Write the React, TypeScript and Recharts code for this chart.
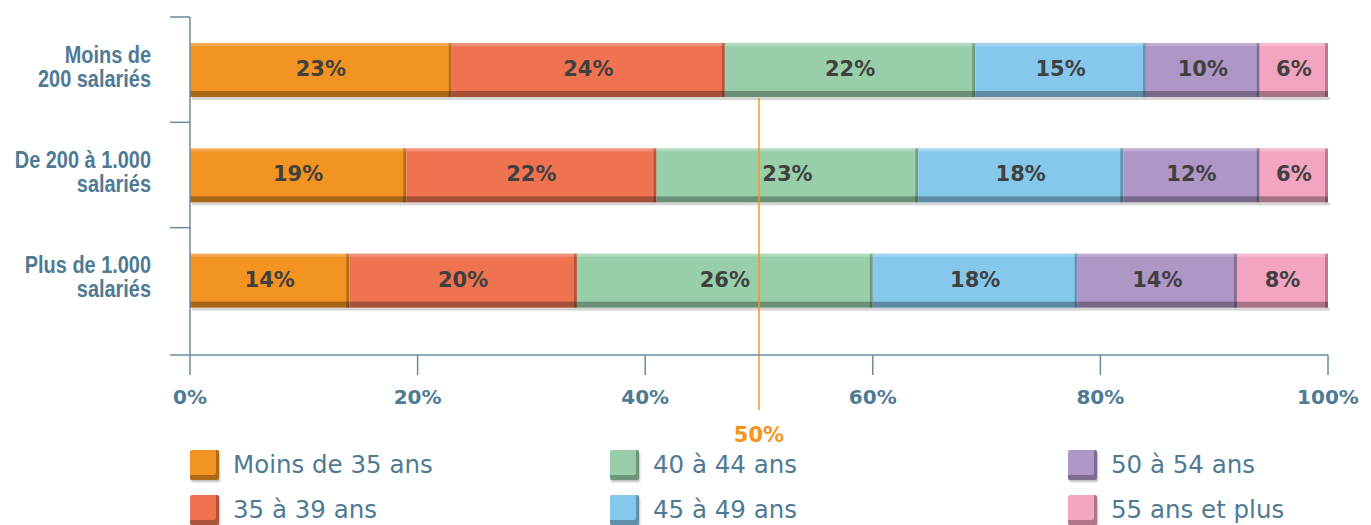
import React from "react";
import { BarChart, Bar, XAxis, YAxis, ReferenceLine, LabelList } from "recharts";

// ---- data ----
const categories: string[][] = [
  ["Moins de", "200 salariés"],
  ["De 200 à 1.000", "salariés"],
  ["Plus de 1.000", "salariés"],
];
const moins35 = [23, 19, 14];
const de35a39 = [24, 22, 20];
const de40a44 = [22, 23, 26];
const de45a49 = [15, 18, 18];
const de50a54 = [10, 12, 14];
const plus55 = [6, 6, 8];
const xTicks = [0, 20, 40, 60, 80, 100];
const refValue = 50;

const seriesNames = [
  "Moins de 35 ans",
  "35 à 39 ans",
  "40 à 44 ans",
  "45 à 49 ans",
  "50 à 54 ans",
  "55 ans et plus",
];
const seriesValues = [moins35, de35a39, de40a44, de45a49, de50a54, plus55];
const seriesColors = ["#F39322", "#EF7351", "#98CFAA", "#86C8EC", "#AE96C6", "#F3A4C1"];

const data = categories.map((c, i) => {
  const row: any = { cat: c.join("\n") };
  seriesValues.forEach((vals, s) => {
    row["s" + s] = vals[i];
  });
  return row;
});

// ---- layout / style ----
const W = 1371;
const H = 525;
const AXIS_COLOR = "#6A8BA0";
const LABEL_COLOR = "#4F7A94";
const TEXT_DARK = "#404040";
const ORANGE = "#F7941D";
const PLOT_TOP = 17;
const PLOT_BOTTOM_MARGIN = 110;
const X_AXIS_H = 60;
const Y_PAD_BOTTOM = 22;
const PLOT_H = H - PLOT_TOP - PLOT_BOTTOM_MARGIN - X_AXIS_H;
const BAND = (PLOT_H - Y_PAD_BOTTOM) / categories.length;

const BarShape = (props: any) => {
  const { x, y, width, height, fill } = props;
  if (!width || width <= 0) return null;
  return (
    <g>
      <rect x={x + 2} y={y + height} width={width} height={3} fill="#8a8a8a" opacity={0.35} />
      <rect x={x} y={y} width={width} height={height} fill={fill} />
      <rect x={x} y={y} width={width} height={3} fill="#ffffff" opacity={0.22} />
      <rect x={x} y={y + height - 6} width={width} height={6} fill="#000" opacity={0.3} />
      <rect x={x + width - 3} y={y} width={3} height={height} fill="#000" opacity={0.25} />
    </g>
  );
};

const BarLabel = (props: any) => {
  const { x, y, width, height, value } = props;
  return (
    <text
      x={x + width / 2}
      y={y + height / 2 - 1}
      textAnchor="middle"
      dominantBaseline="central"
      fontFamily="'DejaVu Sans', sans-serif"
      fontWeight="bold"
      fontSize={21}
      fill={TEXT_DARK}
    >
      {value}%
    </text>
  );
};

const YTick = (props: any) => {
  const { x, y, payload, index } = props;
  const lines = String(payload.value).split("\n");
  const axisX = x + 39;
  const textProps = {
    x: 0,
    textAnchor: "end" as const,
    fontFamily: "'Liberation Sans', Arial, sans-serif",
    fontWeight: "bold",
    fontSize: 24,
    fill: LABEL_COLOR,
  };
  return (
    <g>
      <line x1={axisX - 20} x2={axisX} y1={y - BAND / 2} y2={y - BAND / 2} stroke={AXIS_COLOR} strokeWidth={1.5} />
      {index === categories.length - 1 && (
        <line
          x1={axisX - 20}
          x2={axisX}
          y1={y + BAND / 2 + Y_PAD_BOTTOM}
          y2={y + BAND / 2 + Y_PAD_BOTTOM}
          stroke={AXIS_COLOR}
          strokeWidth={1.5}
        />
      )}
      <g transform={`translate(${x},${y}) scale(0.83,1)`}>
        <text {...textProps} y={-7}>{lines[0]}</text>
        <text {...textProps} y={17}>{lines[1]}</text>
      </g>
    </g>
  );
};

const RefLabel = (props: any) => {
  const { viewBox } = props;
  const x = viewBox.x;
  const top = viewBox.y + 81;
  const bottom = viewBox.y + viewBox.height + 55;
  return (
    <g>
      <line x1={x} x2={x} y1={top} y2={bottom} stroke={ORANGE} strokeWidth={1.5} />
      <text
        x={x}
        y={bottom + 32}
        textAnchor="middle"
        fontFamily="'DejaVu Sans', sans-serif"
        fontWeight="bold"
        fontSize={21}
        fill={ORANGE}
      >
        {refValue}%
      </text>
    </g>
  );
};

const LEGEND_COL_X = [190, 610, 1068];
const LEGEND_ROW_Y = [450, 495];

const Legend = () => (
  <>
    {seriesNames.map((name, i) => {
      const col = Math.floor(i / 2);
      const row = i % 2;
      return (
        <div
          key={name}
          style={{
            position: "absolute",
            left: LEGEND_COL_X[col],
            top: LEGEND_ROW_Y[row],
            display: "flex",
            alignItems: "center",
            height: 30,
          }}
        >
          <div
            style={{
              width: 29,
              height: 30,
              flexShrink: 0,
              background: seriesColors[i],
              boxShadow: "inset -3px -5px 0 rgba(0,0,0,0.28), 1px 2px 2px rgba(0,0,0,0.25)",
              borderRadius: 2,
            }}
          />
          <span
            style={{
              marginLeft: 14,
              fontFamily: "'DejaVu Sans', sans-serif",
              fontSize: 24.5,
              color: LABEL_COLOR,
              whiteSpace: "nowrap",
              lineHeight: "30px",
            }}
          >
            {name}
          </span>
        </div>
      );
    })}
  </>
);

export default function App() {
  return (
    <div style={{ position: "absolute", left: 0, top: 0, width: W, height: H, background: "#fff", overflow: "hidden" }}>
      <BarChart
        width={W}
        height={H}
        data={data}
        layout="vertical"
        margin={{ top: PLOT_TOP, right: 43, left: 0, bottom: PLOT_BOTTOM_MARGIN }}
        barSize={54}
      >
        <XAxis
          type="number"
          domain={[0, 100]}
          ticks={xTicks}
          tickFormatter={(v: number) => v + "%"}
          axisLine={{ stroke: AXIS_COLOR, strokeWidth: 1.5 }}
          tickLine={{ stroke: AXIS_COLOR, strokeWidth: 1.5 }}
          tickSize={20}
          tickMargin={15}
          height={X_AXIS_H}
          tick={{ fill: LABEL_COLOR, fontFamily: "'DejaVu Sans', sans-serif", fontWeight: "bold", fontSize: 20 }}
          interval={0}
        />
        <YAxis
          type="category"
          dataKey="cat"
          width={190}
          axisLine={{ stroke: AXIS_COLOR, strokeWidth: 1.5 }}
          tickLine={false}
          tickSize={20}
          tickMargin={19}
          padding={{ top: 0, bottom: Y_PAD_BOTTOM }}
          tick={<YTick />}
          interval={0}
        />
        <ReferenceLine x={refValue} stroke="none" label={<RefLabel />} />
        {seriesNames.map((name, s) => (
          <Bar
            key={name}
            dataKey={"s" + s}
            name={name}
            stackId="a"
            fill={seriesColors[s]}
            shape={<BarShape />}
            isAnimationActive={false}
          >
            <LabelList dataKey={"s" + s} content={<BarLabel />} />
          </Bar>
        ))}
      </BarChart>
      <Legend />
    </div>
  );
}
